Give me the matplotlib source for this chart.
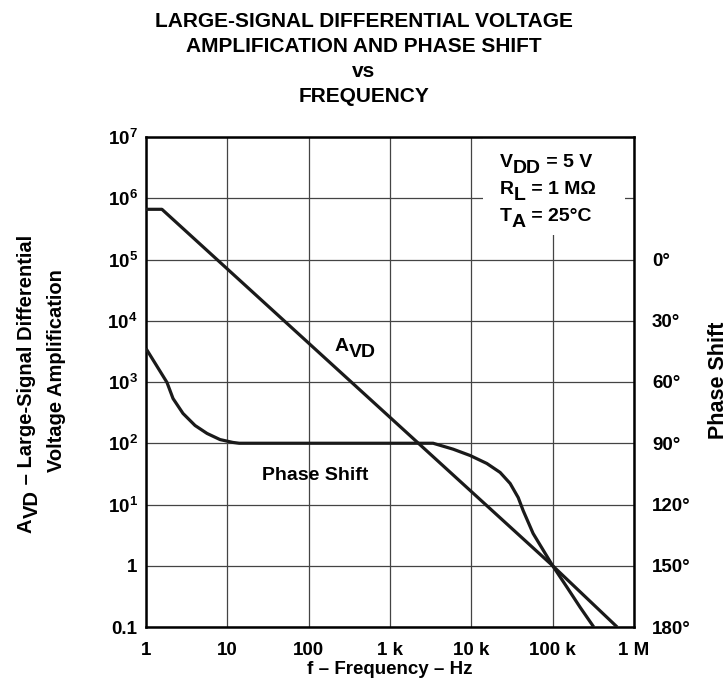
import matplotlib
matplotlib.use("Agg")
import matplotlib.pyplot as plt
from matplotlib.patches import Rectangle
from matplotlib.transforms import offset_copy

plt.rcParams['font.family'] = ['Liberation Sans', 'DejaVu Sans']
plt.rcParams['font.weight'] = 'bold'
plt.rcParams['mathtext.fontset'] = 'custom'
plt.rcParams['mathtext.rm'] = 'Liberation Sans:bold'
plt.rcParams['mathtext.bf'] = 'Liberation Sans:bold'
plt.rcParams['mathtext.it'] = 'Liberation Sans:bold'
plt.rcParams['mathtext.sf'] = 'Liberation Sans:bold'

# ---- data ----
avd_freq = [1, 1.57, 1e5, 6.2e5]
avd_gain = [6.6e5, 6.6e5, 1, 0.1]

phase_freq = [1, 1.81, 2.15, 2.85, 4.01, 5.63, 8.13, 11.7, 14,
              3390, 5970, 9660, 15500, 22600, 30000, 37700, 43400,
              57500, 1e5, 1.51e5, 2.18e5, 3.2e5]
phase_deg = [43.6, 60.2, 68.1, 75.4, 81.3, 85.2, 88.2, 89.6, 90,
             90, 92.9, 96.0, 99.9, 104.3, 109.7, 116.6, 123,
             134.2, 150, 160.7, 170.4, 180]

x_ticks = [1, 10, 100, 1e3, 1e4, 1e5, 1e6]
x_labels = ['1', '10', '100', '1 k', '10 k', '100 k', '1 M']
y_ticks = [0.1, 1, 10, 100, 1e3, 1e4, 1e5, 1e6, 1e7]
y_labels = ['0.1', '1', r'$10^{1}$', r'$10^{2}$', r'$10^{3}$', r'$10^{4}$',
            r'$10^{5}$', r'$10^{6}$', r'$10^{7}$']
phase_ticks = [0, 30, 60, 90, 120, 150, 180]
phase_labels = ['0°', '30°', '60°', '90°', '120°', '150°', '180°']

DPI = 100
fig = plt.figure(figsize=(7.28, 6.87), dpi=DPI)
renderer = fig.canvas.get_renderer()


def sub_text(x, y, parts, transform, fontsize, rotation=0, zorder=5, drop_frac=0.3):
    """Draw text pieces in sequence; parts = [(string, is_subscript)]."""
    drop = drop_frac * fontsize
    off = 0.0
    for s, is_sub in parts:
        dy = -drop if is_sub else 0.0
        if rotation == 90:
            tr = offset_copy(transform, fig=fig, x=-dy, y=off, units='points')
            t = fig.text(x, y, s, transform=tr, fontsize=fontsize, fontweight='bold',
                         rotation=90, ha='left', va='bottom', zorder=zorder,
                         rotation_mode='anchor')
            w = t.get_window_extent(renderer).height
        else:
            tr = offset_copy(transform, fig=fig, x=off, y=dy, units='points')
            t = fig.text(x, y, s, transform=tr, fontsize=fontsize, fontweight='bold',
                         ha='left', va='baseline', zorder=zorder)
            w = t.get_window_extent(renderer).width
        off += w * 72.0 / DPI


ax = fig.add_axes([146/728, 1-627/687, (634-146)/728, (627-137)/687])
ax.set_xscale('log')
ax.set_yscale('log')
ax.set_xlim(1, 1e6)
ax.set_ylim(0.1, 1e7)
ax.set_xticks(x_ticks)
ax.set_xticklabels(x_labels)
ax.set_yticks(y_ticks)
ax.set_yticklabels(y_labels)
ax.minorticks_off()
ax.tick_params(axis='x', length=0, labelsize=13.5, pad=11)
ax.tick_params(axis='y', length=0, labelsize=13.5, pad=6)
ax.grid(True, which='major', color='#444444', lw=0.9)
for s in ax.spines.values():
    s.set_linewidth(1.8)
    s.set_color('black')

ax.plot(avd_freq, avd_gain, color='#1a1a1a', lw=2.3, zorder=4, solid_capstyle='butt')

ax2 = ax.twinx()
ax2.set_ylim(180, -60)
ax2.set_yticks(phase_ticks)
ax2.set_yticklabels(phase_labels)
ax2.tick_params(length=0, labelsize=13.5, pad=13)
for s in ax2.spines.values():
    s.set_visible(False)
ax2.plot(phase_freq, phase_deg, color='#1a1a1a', lw=2.3, zorder=4,
         solid_capstyle='butt', solid_joinstyle='round')

# white box behind conditions
ax.add_patch(Rectangle((483/728, 1-235/687), (625-483)/728, (235-137)/687,
                       transform=fig.transFigure, facecolor='white',
                       edgecolor='none', zorder=2.5))

sub_text(500/728, 1-167/687, [('V', False), ('DD', True), (' = 5 V', False)],
         fig.transFigure, 14)
sub_text(500/728, 1-194/687, [('R', False), ('L', True), (' = 1 MΩ', False)],
         fig.transFigure, 14)
sub_text(500/728, 1-221/687, [('T', False), ('A', True), (' = 25°C', False)],
         fig.transFigure, 14)

sub_text(335/728, 1-351/687, [('A', False), ('VD', True)], fig.transFigure, 14)
fig.text(315/728, 1-475/687, 'Phase Shift', fontsize=14, fontweight='bold',
         ha='center', va='center')

fig.text(0.5, 1-12/687, 'LARGE-SIGNAL DIFFERENTIAL VOLTAGE\nAMPLIFICATION AND PHASE SHIFT\nvs\nFREQUENCY',
         ha='center', va='top', fontsize=15, fontweight='bold', linespacing=1.4)

fig.text(390/728, 1-670/687, 'f – Frequency – Hz', fontsize=13.5, fontweight='bold',
         ha='center', va='center')

# left axis label (two rotated lines)
sub_text(36/728, 1-533/687, [('A', False), ('VD', True), (' – Large-Signal Differential', False)],
         fig.transFigure, 14.5, rotation=90)
fig.text(57/728, 1-371/687, 'Voltage Amplification', rotation=90, ha='center', va='center',
         fontsize=14.5, fontweight='bold')
fig.text(719/728, 1-380/687, 'Phase Shift', rotation=90, ha='center', va='center',
         fontsize=15.5, fontweight='bold')

fig.savefig('out.png', dpi=DPI)
